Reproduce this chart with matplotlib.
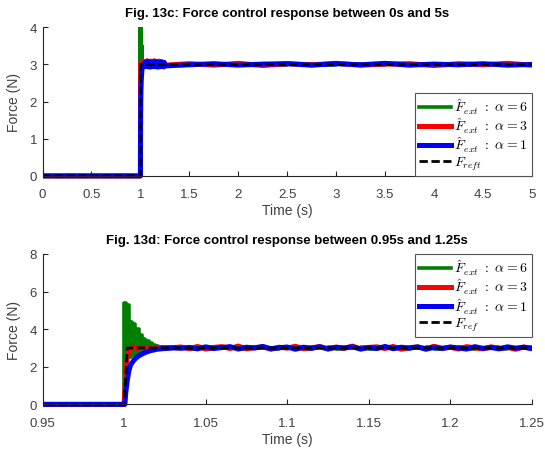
import numpy as np
import matplotlib
matplotlib.use('Agg')
import matplotlib.pyplot as plt
from matplotlib.patches import Rectangle

plt.rcParams['font.family'] = ['Liberation Sans', 'DejaVu Sans']
plt.rcParams['mathtext.fontset'] = 'cm'

# sample times
t_green_tr = np.round(np.linspace(1.0, 1.03, 31), 3)
t_fine = np.round(np.linspace(1.035, 1.25, 44), 3)
t_coarse = np.linspace(1.5, 5.0, 15)

# reference force
t_ref = [0.0, 1.0, 1.002, 5.0]
f_ref = [0.0, 0.0, 3.0, 3.0]

# alpha = 6 (green), oscillating start
green_tr = [5.4, 2.4, 5.3, 2.5, 4.4, 2.6, 4.3, 2.7, 4.0, 2.8, 3.7, 2.85, 3.5, 2.9, 3.35, 2.9,
            3.25, 2.95, 3.15, 2.95, 3.1, 2.97, 3.07, 2.98, 3.05, 2.98, 3.04, 2.99, 3.03, 3.0, 3.02]
green_fine = [3.01, 2.97, 3.04, 2.96, 3.02, 2.98, 3.05, 2.95, 3.03, 2.99, 3.02, 2.96, 3.04, 2.98, 3.01,
              2.97, 3.03, 2.99, 3.05, 2.96, 3.02, 2.98, 3.04, 2.97, 3.01, 2.99, 3.03, 2.96, 3.02, 2.98,
              3.04, 2.97, 3.01, 2.99, 3.03, 2.96, 3.02, 2.98, 3.05, 2.97, 3.01, 2.99, 3.03, 2.98]
green_coarse = [3.01, 2.99, 3.02, 2.98, 3.01, 2.99, 3.02, 2.99, 3.01, 2.98, 3.02, 2.99, 3.01, 2.99, 3.01]

# alpha = 3 (red)
t_red_tr = [0.0, 1.0, 1.001, 1.002, 1.003, 1.004, 1.006, 1.008, 1.01, 1.015, 1.02, 1.025, 1.03]
red_tr = [0.0, 0.0, 1.5, 2.5, 2.85, 2.95, 3.05, 2.97, 3.03, 2.96, 3.04, 2.98, 3.02]
red_fine = [3.05, 2.96, 3.08, 2.94, 3.03, 3.07, 2.97, 3.1, 2.95, 3.02, 3.06, 2.93, 3.04, 2.99, 3.09,
            2.96, 3.01, 3.07, 2.94, 3.05, 2.98, 3.1, 2.95, 3.03, 3.06, 2.97, 3.08, 2.93, 3.02, 3.05,
            2.96, 3.09, 2.98, 3.04, 2.94, 3.07, 3.0, 2.95, 3.06, 2.97, 3.03, 2.93, 3.05, 2.98]
red_coarse = [3.02, 2.98, 3.03, 2.97, 3.02, 2.99, 3.03, 2.98, 3.01, 3.02, 2.97, 3.02, 2.99, 3.03, 2.98]

# alpha = 1 (blue), slow rise
t_blue_tr = [0.0, 1.0005, 1.001, 1.002, 1.003, 1.004, 1.006, 1.008, 1.01, 1.013, 1.016, 1.02, 1.025, 1.03]
blue_tr = [0.0, 0.0, 0.6, 1.3, 1.8, 2.1, 2.35, 2.52, 2.63, 2.76, 2.85, 2.93, 2.97, 3.0]
blue_fine = [2.98, 3.03, 2.95, 3.06, 2.97, 3.02, 3.07, 2.94, 3.04, 2.99, 3.08, 2.96, 3.01, 3.05, 2.93,
             3.04, 2.98, 3.07, 2.95, 3.03, 3.0, 3.06, 2.94, 3.02, 2.97, 3.08, 2.96, 3.04, 2.99, 3.06,
             2.93, 3.03, 2.97, 3.05, 3.0, 2.94, 3.07, 2.98, 3.02, 2.95, 3.06, 2.99, 3.04, 2.96]
blue_coarse = [2.99, 3.02, 2.98, 3.01, 3.02, 2.98, 3.02, 2.99, 3.03, 2.98, 3.01, 2.99, 3.02, 2.98, 3.0]

t_green = np.concatenate([[0.0], t_green_tr, t_fine, t_coarse])
f_green = np.concatenate([[0.0], green_tr, green_fine, green_coarse])
t_red = np.concatenate([t_red_tr, t_fine, t_coarse])
f_red = np.concatenate([red_tr, red_fine, red_coarse])
t_blue = np.concatenate([t_blue_tr, t_fine, t_coarse])
f_blue = np.concatenate([blue_tr, blue_fine, blue_coarse])

GRAY = '#262626'


def draw(ax, xlim, ylim, xticks, xlabels, yticks, title, ref_label, legend_loc):
    lines = []
    lines += ax.plot(t_green, f_green, color='#008000', lw=2.6, drawstyle='steps-post',
                     label=r'$\hat{F}_{ext}\ :\ \alpha=6$')
    lines += ax.plot(t_red, f_red, color='#ff0000', lw=3.6, label=r'$\hat{F}_{ext}\ :\ \alpha=3$')
    lines += ax.plot(t_blue, f_blue, color='#0000ff', lw=3.6, label=r'$\hat{F}_{ext}\ :\ \alpha=1$')
    lines += ax.plot(t_ref, f_ref, color='black', lw=2.0, ls=(0, (3, 1.3)), label=ref_label)
    # let thick lines at y=0 show fully, like matlab
    clip = Rectangle((0, -0.05), 1, 1.05, transform=ax.transAxes)
    for ln in lines:
        ln.set_clip_path(clip)
    ax.set_xlim(*xlim)
    ax.set_ylim(*ylim)
    ax.set_xticks(xticks)
    ax.set_xticklabels(xlabels)
    ax.set_yticks(yticks)
    for s in ['top', 'right']:
        ax.spines[s].set_visible(False)
    for s in ['left', 'bottom']:
        ax.spines[s].set_color(GRAY)
        ax.spines[s].set_linewidth(0.8)
    ax.tick_params(direction='in', length=3.5, width=0.8, colors=GRAY, labelsize=9.5,
                   labelcolor='#404040')
    ax.tick_params(axis='x', pad=9)
    ax.tick_params(axis='y', pad=4)
    ax.set_xlabel('Time (s)', fontsize=10, color='#404040', labelpad=2)
    ax.set_ylabel('Force (N)', fontsize=10, color='#404040', labelpad=6)
    ax.set_title(title, fontsize=9.5, fontweight='bold', color='black', pad=8)
    anchor = (1, 0) if legend_loc == 'lower right' else (1, 1)
    leg = ax.legend(loc=legend_loc, bbox_to_anchor=anchor, borderaxespad=0, fontsize=10,
                    fancybox=False, framealpha=1, edgecolor='#555555', handlelength=2.3,
                    handletextpad=0.2, labelspacing=0.0, borderpad=0.3)
    leg.get_frame().set_linewidth(0.8)


fig = plt.figure(figsize=(5.45, 4.56), dpi=100)
ax1 = fig.add_axes([0.078, 0.612, 0.898, 0.326])
ax2 = fig.add_axes([0.078, 0.111, 0.898, 0.330])

draw(ax1, (0, 5), (0, 4), np.arange(0, 5.01, 0.5),
     ['0', '0.5', '1', '1.5', '2', '2.5', '3', '3.5', '4', '4.5', '5'], [0, 1, 2, 3, 4],
     'Fig. 13c: Force control response between 0s and 5s', r'$F_{reft}$', 'lower right')
draw(ax2, (0.95, 1.25), (0, 8), [0.95, 1.0, 1.05, 1.1, 1.15, 1.2, 1.25],
     ['0.95', '1', '1.05', '1.1', '1.15', '1.2', '1.25'], [0, 2, 4, 6, 8],
     'Fig. 13d: Force control response between 0.95s and 1.25s', r'$F_{ref}$', 'upper right')

fig.savefig('out.png', dpi=100)
